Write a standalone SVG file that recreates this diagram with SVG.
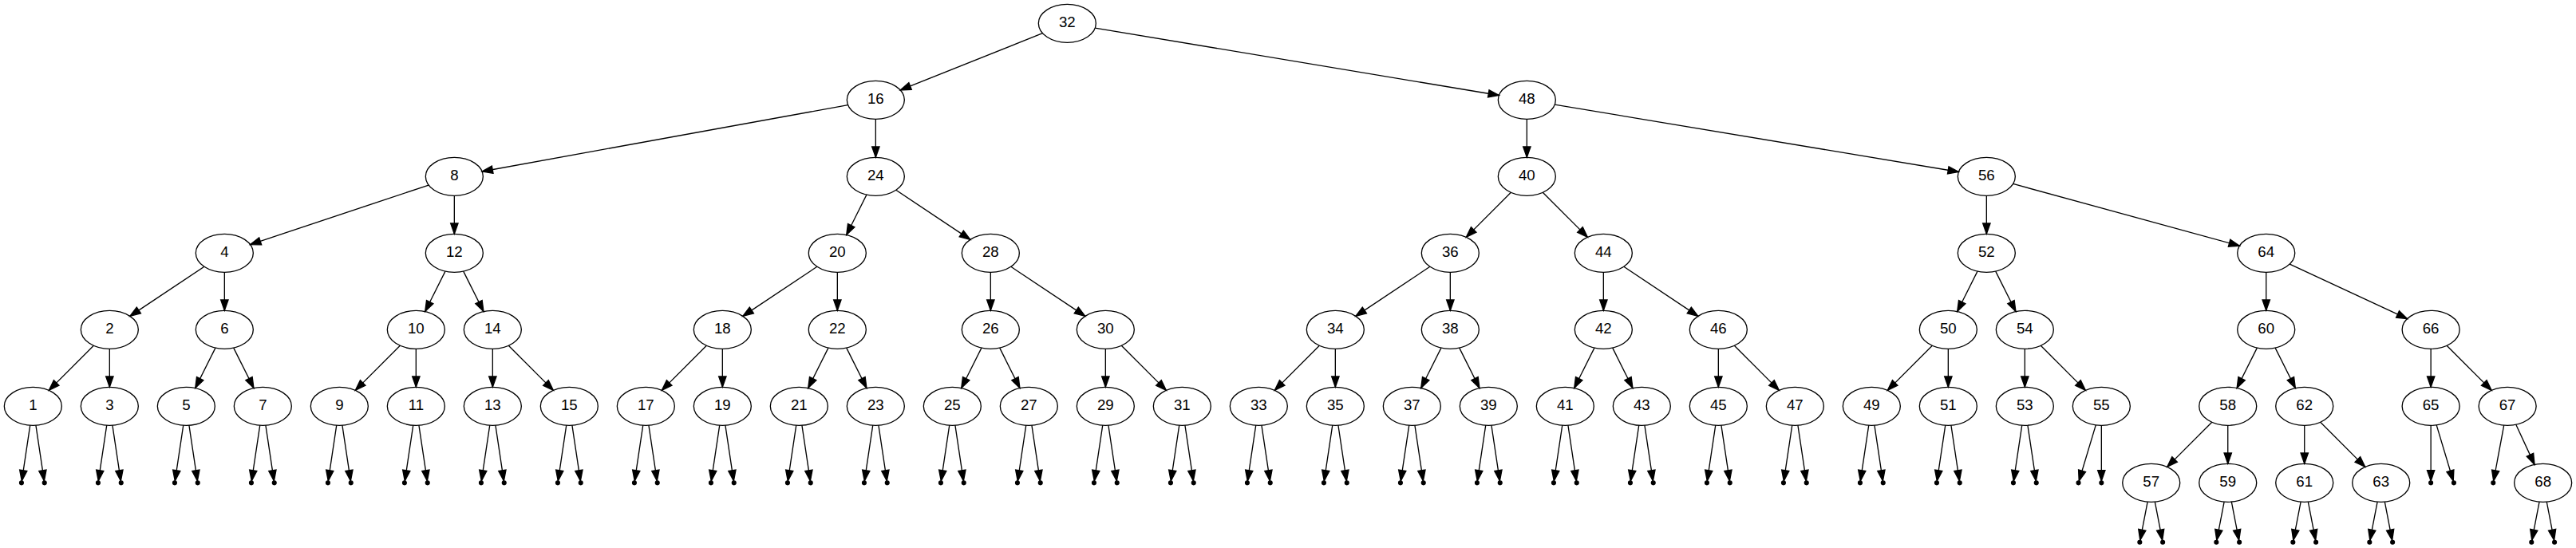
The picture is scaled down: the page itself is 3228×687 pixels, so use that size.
<svg xmlns="http://www.w3.org/2000/svg" width="3228" height="687" viewBox="0 0 3228 687">
<style>
.node ellipse{fill:none;stroke:#000;stroke-width:1.33}
.node text{font-family:"Liberation Sans",Arial,Helvetica,sans-serif;font-size:18.67px;text-anchor:middle;fill:#000}
.pt circle{fill:#000;stroke:#000;stroke-width:1.33}
#edges path{fill:none;stroke:#000;stroke-width:1.33;marker-end:url(#arr)}
</style>
<defs>
<marker id="arr" markerUnits="userSpaceOnUse" viewBox="-2 -2 18 14" markerWidth="18" markerHeight="14" refX="13.33" refY="4.67" orient="auto" overflow="visible">
<path d="M0,0 L13.33,4.67 L0,9.33 Z" fill="#000" stroke="#000" stroke-width="1.33"/>
</marker>
</defs>
<rect x="0" y="0" width="3228" height="687" fill="#fff"/>
<g id="edges">
<path d="M1306.46,41.68 L1128.20,112.98"/>
<path d="M1372.25,35.15 L1878.41,119.51"/>
<path d="M1062.60,131.65 L604.06,215.01"/>
<path d="M1097.33,149.33 L1097.33,197.33"/>
<path d="M1913.33,149.33 L1913.33,197.33"/>
<path d="M1948.25,131.15 L2454.41,215.51"/>
<path d="M537.13,232.06 L313.53,306.60"/>
<path d="M569.33,245.33 L569.33,293.33"/>
<path d="M1085.95,244.10 L1060.71,294.56"/>
<path d="M1122.79,238.30 L1215.87,300.36"/>
<path d="M1893.36,241.30 L1837.30,297.36"/>
<path d="M1933.30,241.30 L1989.36,297.36"/>
<path d="M2489.33,245.33 L2489.33,293.33"/>
<path d="M2522.63,230.45 L2806.43,308.21"/>
<path d="M255.87,334.30 L162.79,396.36"/>
<path d="M281.33,341.33 L281.33,389.33"/>
<path d="M557.95,340.10 L532.71,390.56"/>
<path d="M580.71,340.10 L605.95,390.56"/>
<path d="M1023.87,334.30 L930.79,396.36"/>
<path d="M1049.33,341.33 L1049.33,389.33"/>
<path d="M1241.33,341.33 L1241.33,389.33"/>
<path d="M1266.79,334.30 L1359.87,396.36"/>
<path d="M1791.87,334.30 L1698.79,396.36"/>
<path d="M1817.33,341.33 L1817.33,389.33"/>
<path d="M2009.33,341.33 L2009.33,389.33"/>
<path d="M2034.79,334.30 L2127.87,396.36"/>
<path d="M2477.95,340.10 L2452.71,390.56"/>
<path d="M2500.71,340.10 L2525.95,390.56"/>
<path d="M2839.73,341.33 L2839.73,389.33"/>
<path d="M2869.25,331.06 L3016.61,399.60"/>
<path d="M117.36,433.30 L61.30,489.36"/>
<path d="M137.33,437.33 L137.33,485.33"/>
<path d="M269.95,436.10 L244.71,486.56"/>
<path d="M292.71,436.10 L317.95,486.56"/>
<path d="M501.36,433.30 L445.30,489.36"/>
<path d="M521.33,437.33 L521.33,485.33"/>
<path d="M617.33,437.33 L617.33,485.33"/>
<path d="M637.30,433.30 L693.36,489.36"/>
<path d="M885.36,433.30 L829.30,489.36"/>
<path d="M905.33,437.33 L905.33,485.33"/>
<path d="M1037.95,436.10 L1012.71,486.56"/>
<path d="M1060.71,436.10 L1085.95,486.56"/>
<path d="M1229.95,436.10 L1204.71,486.56"/>
<path d="M1252.71,436.10 L1277.95,486.56"/>
<path d="M1385.33,437.33 L1385.33,485.33"/>
<path d="M1405.30,433.30 L1461.36,489.36"/>
<path d="M1653.36,433.30 L1597.30,489.36"/>
<path d="M1673.33,437.33 L1673.33,485.33"/>
<path d="M1805.95,436.10 L1780.71,486.56"/>
<path d="M1828.71,436.10 L1853.95,486.56"/>
<path d="M1997.95,436.10 L1972.71,486.56"/>
<path d="M2020.71,436.10 L2045.95,486.56"/>
<path d="M2153.33,437.33 L2153.33,485.33"/>
<path d="M2173.30,433.30 L2229.36,489.36"/>
<path d="M2421.36,433.30 L2365.30,489.36"/>
<path d="M2441.33,437.33 L2441.33,485.33"/>
<path d="M2537.33,437.33 L2537.33,485.33"/>
<path d="M2557.30,433.30 L2613.36,489.36"/>
<path d="M2828.35,436.10 L2803.11,486.56"/>
<path d="M2851.11,436.10 L2876.35,486.56"/>
<path d="M3046.13,437.33 L3046.13,485.33"/>
<path d="M3066.10,433.30 L3122.16,489.36"/>
<path d="M2771.76,529.30 L2715.70,585.36"/>
<path d="M2791.73,533.33 L2791.73,581.33"/>
<path d="M2887.73,533.33 L2887.73,581.33"/>
<path d="M2907.70,529.30 L2963.76,585.36"/>
<path d="M3152.77,532.26 L3176.03,582.40"/>
<path d="M37.75,533.21 L27.29,602.96"/><path d="M44.91,533.21 L55.37,602.96"/>
<path d="M133.75,533.21 L123.29,602.96"/><path d="M140.91,533.21 L151.37,602.96"/>
<path d="M229.75,533.21 L219.29,602.96"/><path d="M236.91,533.21 L247.37,602.96"/>
<path d="M325.75,533.21 L315.29,602.96"/><path d="M332.91,533.21 L343.37,602.96"/>
<path d="M421.75,533.21 L411.29,602.96"/><path d="M428.91,533.21 L439.37,602.96"/>
<path d="M517.75,533.21 L507.29,602.96"/><path d="M524.91,533.21 L535.37,602.96"/>
<path d="M613.75,533.21 L603.29,602.96"/><path d="M620.91,533.21 L631.37,602.96"/>
<path d="M709.75,533.21 L699.29,602.96"/><path d="M716.91,533.21 L727.37,602.96"/>
<path d="M805.75,533.21 L795.29,602.96"/><path d="M812.91,533.21 L823.37,602.96"/>
<path d="M901.75,533.21 L891.29,602.96"/><path d="M908.91,533.21 L919.37,602.96"/>
<path d="M997.75,533.21 L987.29,602.96"/><path d="M1004.91,533.21 L1015.37,602.96"/>
<path d="M1093.75,533.21 L1083.29,602.96"/><path d="M1100.91,533.21 L1111.37,602.96"/>
<path d="M1189.75,533.21 L1179.29,602.96"/><path d="M1196.91,533.21 L1207.37,602.96"/>
<path d="M1285.75,533.21 L1275.29,602.96"/><path d="M1292.91,533.21 L1303.37,602.96"/>
<path d="M1381.75,533.21 L1371.29,602.96"/><path d="M1388.91,533.21 L1399.37,602.96"/>
<path d="M1477.75,533.21 L1467.29,602.96"/><path d="M1484.91,533.21 L1495.37,602.96"/>
<path d="M1573.75,533.21 L1563.29,602.96"/><path d="M1580.91,533.21 L1591.37,602.96"/>
<path d="M1669.75,533.21 L1659.29,602.96"/><path d="M1676.91,533.21 L1687.37,602.96"/>
<path d="M1765.75,533.21 L1755.29,602.96"/><path d="M1772.91,533.21 L1783.37,602.96"/>
<path d="M1861.75,533.21 L1851.29,602.96"/><path d="M1868.91,533.21 L1879.37,602.96"/>
<path d="M1957.75,533.21 L1947.29,602.96"/><path d="M1964.91,533.21 L1975.37,602.96"/>
<path d="M2053.75,533.21 L2043.29,602.96"/><path d="M2060.91,533.21 L2071.37,602.96"/>
<path d="M2149.75,533.21 L2139.29,602.96"/><path d="M2156.91,533.21 L2167.37,602.96"/>
<path d="M2245.75,533.21 L2235.29,602.96"/><path d="M2252.91,533.21 L2263.37,602.96"/>
<path d="M2341.75,533.21 L2331.29,602.96"/><path d="M2348.91,533.21 L2359.37,602.96"/>
<path d="M2437.75,533.21 L2427.29,602.96"/><path d="M2444.91,533.21 L2455.37,602.96"/>
<path d="M2533.75,533.21 L2523.29,602.96"/><path d="M2540.91,533.21 L2551.37,602.96"/>
<path d="M2626.27,532.86 L2605.22,603.03"/><path d="M2633.33,533.33 L2633.33,602.93"/>
<path d="M3046.13,533.33 L3046.13,602.93"/><path d="M3053.19,532.86 L3074.24,603.03"/>
<path d="M3137.70,533.15 L3124.71,602.97"/>
<path d="M2691.12,629.13 L2681.79,677.37"/><path d="M2700.34,629.13 L2709.67,677.37"/>
<path d="M2787.12,629.13 L2777.79,677.37"/><path d="M2796.34,629.13 L2805.67,677.37"/>
<path d="M2883.12,629.13 L2873.79,677.37"/><path d="M2892.34,629.13 L2901.67,677.37"/>
<path d="M2979.12,629.13 L2969.79,677.37"/><path d="M2988.34,629.13 L2997.67,677.37"/>
<path d="M3182.06,629.13 L3172.73,677.37"/><path d="M3191.28,629.13 L3200.61,677.37"/>
</g>
<g id="n32" class="node"><ellipse cx="1337.33" cy="29.33" rx="36" ry="24"/><text x="1337.33" y="34.33">32</text></g>
<g id="n16" class="node"><ellipse cx="1097.33" cy="125.33" rx="36" ry="24"/><text x="1097.33" y="130.33">16</text></g>
<g id="n48" class="node"><ellipse cx="1913.33" cy="125.33" rx="36" ry="24"/><text x="1913.33" y="130.33">48</text></g>
<g id="n8" class="node"><ellipse cx="569.33" cy="221.33" rx="36" ry="24"/><text x="569.33" y="226.33">8</text></g>
<g id="n24" class="node"><ellipse cx="1097.33" cy="221.33" rx="36" ry="24"/><text x="1097.33" y="226.33">24</text></g>
<g id="n40" class="node"><ellipse cx="1913.33" cy="221.33" rx="36" ry="24"/><text x="1913.33" y="226.33">40</text></g>
<g id="n56" class="node"><ellipse cx="2489.33" cy="221.33" rx="36" ry="24"/><text x="2489.33" y="226.33">56</text></g>
<g id="n4" class="node"><ellipse cx="281.33" cy="317.33" rx="36" ry="24"/><text x="281.33" y="322.33">4</text></g>
<g id="n12" class="node"><ellipse cx="569.33" cy="317.33" rx="36" ry="24"/><text x="569.33" y="322.33">12</text></g>
<g id="n20" class="node"><ellipse cx="1049.33" cy="317.33" rx="36" ry="24"/><text x="1049.33" y="322.33">20</text></g>
<g id="n28" class="node"><ellipse cx="1241.33" cy="317.33" rx="36" ry="24"/><text x="1241.33" y="322.33">28</text></g>
<g id="n36" class="node"><ellipse cx="1817.33" cy="317.33" rx="36" ry="24"/><text x="1817.33" y="322.33">36</text></g>
<g id="n44" class="node"><ellipse cx="2009.33" cy="317.33" rx="36" ry="24"/><text x="2009.33" y="322.33">44</text></g>
<g id="n52" class="node"><ellipse cx="2489.33" cy="317.33" rx="36" ry="24"/><text x="2489.33" y="322.33">52</text></g>
<g id="n64" class="node"><ellipse cx="2839.73" cy="317.33" rx="36" ry="24"/><text x="2839.73" y="322.33">64</text></g>
<g id="n2" class="node"><ellipse cx="137.33" cy="413.33" rx="36" ry="24"/><text x="137.33" y="418.33">2</text></g>
<g id="n6" class="node"><ellipse cx="281.33" cy="413.33" rx="36" ry="24"/><text x="281.33" y="418.33">6</text></g>
<g id="n10" class="node"><ellipse cx="521.33" cy="413.33" rx="36" ry="24"/><text x="521.33" y="418.33">10</text></g>
<g id="n14" class="node"><ellipse cx="617.33" cy="413.33" rx="36" ry="24"/><text x="617.33" y="418.33">14</text></g>
<g id="n18" class="node"><ellipse cx="905.33" cy="413.33" rx="36" ry="24"/><text x="905.33" y="418.33">18</text></g>
<g id="n22" class="node"><ellipse cx="1049.33" cy="413.33" rx="36" ry="24"/><text x="1049.33" y="418.33">22</text></g>
<g id="n26" class="node"><ellipse cx="1241.33" cy="413.33" rx="36" ry="24"/><text x="1241.33" y="418.33">26</text></g>
<g id="n30" class="node"><ellipse cx="1385.33" cy="413.33" rx="36" ry="24"/><text x="1385.33" y="418.33">30</text></g>
<g id="n34" class="node"><ellipse cx="1673.33" cy="413.33" rx="36" ry="24"/><text x="1673.33" y="418.33">34</text></g>
<g id="n38" class="node"><ellipse cx="1817.33" cy="413.33" rx="36" ry="24"/><text x="1817.33" y="418.33">38</text></g>
<g id="n42" class="node"><ellipse cx="2009.33" cy="413.33" rx="36" ry="24"/><text x="2009.33" y="418.33">42</text></g>
<g id="n46" class="node"><ellipse cx="2153.33" cy="413.33" rx="36" ry="24"/><text x="2153.33" y="418.33">46</text></g>
<g id="n50" class="node"><ellipse cx="2441.33" cy="413.33" rx="36" ry="24"/><text x="2441.33" y="418.33">50</text></g>
<g id="n54" class="node"><ellipse cx="2537.33" cy="413.33" rx="36" ry="24"/><text x="2537.33" y="418.33">54</text></g>
<g id="n60" class="node"><ellipse cx="2839.73" cy="413.33" rx="36" ry="24"/><text x="2839.73" y="418.33">60</text></g>
<g id="n66" class="node"><ellipse cx="3046.13" cy="413.33" rx="36" ry="24"/><text x="3046.13" y="418.33">66</text></g>
<g id="n1" class="node"><ellipse cx="41.33" cy="509.33" rx="36" ry="24"/><text x="41.33" y="514.33">1</text></g>
<g id="n3" class="node"><ellipse cx="137.33" cy="509.33" rx="36" ry="24"/><text x="137.33" y="514.33">3</text></g>
<g id="n5" class="node"><ellipse cx="233.33" cy="509.33" rx="36" ry="24"/><text x="233.33" y="514.33">5</text></g>
<g id="n7" class="node"><ellipse cx="329.33" cy="509.33" rx="36" ry="24"/><text x="329.33" y="514.33">7</text></g>
<g id="n9" class="node"><ellipse cx="425.33" cy="509.33" rx="36" ry="24"/><text x="425.33" y="514.33">9</text></g>
<g id="n11" class="node"><ellipse cx="521.33" cy="509.33" rx="36" ry="24"/><text x="521.33" y="514.33">11</text></g>
<g id="n13" class="node"><ellipse cx="617.33" cy="509.33" rx="36" ry="24"/><text x="617.33" y="514.33">13</text></g>
<g id="n15" class="node"><ellipse cx="713.33" cy="509.33" rx="36" ry="24"/><text x="713.33" y="514.33">15</text></g>
<g id="n17" class="node"><ellipse cx="809.33" cy="509.33" rx="36" ry="24"/><text x="809.33" y="514.33">17</text></g>
<g id="n19" class="node"><ellipse cx="905.33" cy="509.33" rx="36" ry="24"/><text x="905.33" y="514.33">19</text></g>
<g id="n21" class="node"><ellipse cx="1001.33" cy="509.33" rx="36" ry="24"/><text x="1001.33" y="514.33">21</text></g>
<g id="n23" class="node"><ellipse cx="1097.33" cy="509.33" rx="36" ry="24"/><text x="1097.33" y="514.33">23</text></g>
<g id="n25" class="node"><ellipse cx="1193.33" cy="509.33" rx="36" ry="24"/><text x="1193.33" y="514.33">25</text></g>
<g id="n27" class="node"><ellipse cx="1289.33" cy="509.33" rx="36" ry="24"/><text x="1289.33" y="514.33">27</text></g>
<g id="n29" class="node"><ellipse cx="1385.33" cy="509.33" rx="36" ry="24"/><text x="1385.33" y="514.33">29</text></g>
<g id="n31" class="node"><ellipse cx="1481.33" cy="509.33" rx="36" ry="24"/><text x="1481.33" y="514.33">31</text></g>
<g id="n33" class="node"><ellipse cx="1577.33" cy="509.33" rx="36" ry="24"/><text x="1577.33" y="514.33">33</text></g>
<g id="n35" class="node"><ellipse cx="1673.33" cy="509.33" rx="36" ry="24"/><text x="1673.33" y="514.33">35</text></g>
<g id="n37" class="node"><ellipse cx="1769.33" cy="509.33" rx="36" ry="24"/><text x="1769.33" y="514.33">37</text></g>
<g id="n39" class="node"><ellipse cx="1865.33" cy="509.33" rx="36" ry="24"/><text x="1865.33" y="514.33">39</text></g>
<g id="n41" class="node"><ellipse cx="1961.33" cy="509.33" rx="36" ry="24"/><text x="1961.33" y="514.33">41</text></g>
<g id="n43" class="node"><ellipse cx="2057.33" cy="509.33" rx="36" ry="24"/><text x="2057.33" y="514.33">43</text></g>
<g id="n45" class="node"><ellipse cx="2153.33" cy="509.33" rx="36" ry="24"/><text x="2153.33" y="514.33">45</text></g>
<g id="n47" class="node"><ellipse cx="2249.33" cy="509.33" rx="36" ry="24"/><text x="2249.33" y="514.33">47</text></g>
<g id="n49" class="node"><ellipse cx="2345.33" cy="509.33" rx="36" ry="24"/><text x="2345.33" y="514.33">49</text></g>
<g id="n51" class="node"><ellipse cx="2441.33" cy="509.33" rx="36" ry="24"/><text x="2441.33" y="514.33">51</text></g>
<g id="n53" class="node"><ellipse cx="2537.33" cy="509.33" rx="36" ry="24"/><text x="2537.33" y="514.33">53</text></g>
<g id="n55" class="node"><ellipse cx="2633.33" cy="509.33" rx="36" ry="24"/><text x="2633.33" y="514.33">55</text></g>
<g id="n58" class="node"><ellipse cx="2791.73" cy="509.33" rx="36" ry="24"/><text x="2791.73" y="514.33">58</text></g>
<g id="n62" class="node"><ellipse cx="2887.73" cy="509.33" rx="36" ry="24"/><text x="2887.73" y="514.33">62</text></g>
<g id="n65" class="node"><ellipse cx="3046.13" cy="509.33" rx="36" ry="24"/><text x="3046.13" y="514.33">65</text></g>
<g id="n67" class="node"><ellipse cx="3142.13" cy="509.33" rx="36" ry="24"/><text x="3142.13" y="514.33">67</text></g>
<g id="n57" class="node"><ellipse cx="2695.73" cy="605.33" rx="36" ry="24"/><text x="2695.73" y="610.33">57</text></g>
<g id="n59" class="node"><ellipse cx="2791.73" cy="605.33" rx="36" ry="24"/><text x="2791.73" y="610.33">59</text></g>
<g id="n61" class="node"><ellipse cx="2887.73" cy="605.33" rx="36" ry="24"/><text x="2887.73" y="610.33">61</text></g>
<g id="n63" class="node"><ellipse cx="2983.73" cy="605.33" rx="36" ry="24"/><text x="2983.73" y="610.33">63</text></g>
<g id="n68" class="node"><ellipse cx="3186.67" cy="605.33" rx="36" ry="24"/><text x="3186.67" y="610.33">68</text></g>
<g id="p1L" class="pt"><circle cx="26.93" cy="605.33" r="2.4"/></g><g id="p1R" class="pt"><circle cx="55.73" cy="605.33" r="2.4"/></g>
<g id="p3L" class="pt"><circle cx="122.93" cy="605.33" r="2.4"/></g><g id="p3R" class="pt"><circle cx="151.73" cy="605.33" r="2.4"/></g>
<g id="p5L" class="pt"><circle cx="218.93" cy="605.33" r="2.4"/></g><g id="p5R" class="pt"><circle cx="247.73" cy="605.33" r="2.4"/></g>
<g id="p7L" class="pt"><circle cx="314.93" cy="605.33" r="2.4"/></g><g id="p7R" class="pt"><circle cx="343.73" cy="605.33" r="2.4"/></g>
<g id="p9L" class="pt"><circle cx="410.93" cy="605.33" r="2.4"/></g><g id="p9R" class="pt"><circle cx="439.73" cy="605.33" r="2.4"/></g>
<g id="p11L" class="pt"><circle cx="506.93" cy="605.33" r="2.4"/></g><g id="p11R" class="pt"><circle cx="535.73" cy="605.33" r="2.4"/></g>
<g id="p13L" class="pt"><circle cx="602.93" cy="605.33" r="2.4"/></g><g id="p13R" class="pt"><circle cx="631.73" cy="605.33" r="2.4"/></g>
<g id="p15L" class="pt"><circle cx="698.93" cy="605.33" r="2.4"/></g><g id="p15R" class="pt"><circle cx="727.73" cy="605.33" r="2.4"/></g>
<g id="p17L" class="pt"><circle cx="794.93" cy="605.33" r="2.4"/></g><g id="p17R" class="pt"><circle cx="823.73" cy="605.33" r="2.4"/></g>
<g id="p19L" class="pt"><circle cx="890.93" cy="605.33" r="2.4"/></g><g id="p19R" class="pt"><circle cx="919.73" cy="605.33" r="2.4"/></g>
<g id="p21L" class="pt"><circle cx="986.93" cy="605.33" r="2.4"/></g><g id="p21R" class="pt"><circle cx="1015.73" cy="605.33" r="2.4"/></g>
<g id="p23L" class="pt"><circle cx="1082.93" cy="605.33" r="2.4"/></g><g id="p23R" class="pt"><circle cx="1111.73" cy="605.33" r="2.4"/></g>
<g id="p25L" class="pt"><circle cx="1178.93" cy="605.33" r="2.4"/></g><g id="p25R" class="pt"><circle cx="1207.73" cy="605.33" r="2.4"/></g>
<g id="p27L" class="pt"><circle cx="1274.93" cy="605.33" r="2.4"/></g><g id="p27R" class="pt"><circle cx="1303.73" cy="605.33" r="2.4"/></g>
<g id="p29L" class="pt"><circle cx="1370.93" cy="605.33" r="2.4"/></g><g id="p29R" class="pt"><circle cx="1399.73" cy="605.33" r="2.4"/></g>
<g id="p31L" class="pt"><circle cx="1466.93" cy="605.33" r="2.4"/></g><g id="p31R" class="pt"><circle cx="1495.73" cy="605.33" r="2.4"/></g>
<g id="p33L" class="pt"><circle cx="1562.93" cy="605.33" r="2.4"/></g><g id="p33R" class="pt"><circle cx="1591.73" cy="605.33" r="2.4"/></g>
<g id="p35L" class="pt"><circle cx="1658.93" cy="605.33" r="2.4"/></g><g id="p35R" class="pt"><circle cx="1687.73" cy="605.33" r="2.4"/></g>
<g id="p37L" class="pt"><circle cx="1754.93" cy="605.33" r="2.4"/></g><g id="p37R" class="pt"><circle cx="1783.73" cy="605.33" r="2.4"/></g>
<g id="p39L" class="pt"><circle cx="1850.93" cy="605.33" r="2.4"/></g><g id="p39R" class="pt"><circle cx="1879.73" cy="605.33" r="2.4"/></g>
<g id="p41L" class="pt"><circle cx="1946.93" cy="605.33" r="2.4"/></g><g id="p41R" class="pt"><circle cx="1975.73" cy="605.33" r="2.4"/></g>
<g id="p43L" class="pt"><circle cx="2042.93" cy="605.33" r="2.4"/></g><g id="p43R" class="pt"><circle cx="2071.73" cy="605.33" r="2.4"/></g>
<g id="p45L" class="pt"><circle cx="2138.93" cy="605.33" r="2.4"/></g><g id="p45R" class="pt"><circle cx="2167.73" cy="605.33" r="2.4"/></g>
<g id="p47L" class="pt"><circle cx="2234.93" cy="605.33" r="2.4"/></g><g id="p47R" class="pt"><circle cx="2263.73" cy="605.33" r="2.4"/></g>
<g id="p49L" class="pt"><circle cx="2330.93" cy="605.33" r="2.4"/></g><g id="p49R" class="pt"><circle cx="2359.73" cy="605.33" r="2.4"/></g>
<g id="p51L" class="pt"><circle cx="2426.93" cy="605.33" r="2.4"/></g><g id="p51R" class="pt"><circle cx="2455.73" cy="605.33" r="2.4"/></g>
<g id="p53L" class="pt"><circle cx="2522.93" cy="605.33" r="2.4"/></g><g id="p53R" class="pt"><circle cx="2551.73" cy="605.33" r="2.4"/></g>
<g id="p55L" class="pt"><circle cx="2604.53" cy="605.33" r="2.4"/></g><g id="p55R" class="pt"><circle cx="2633.33" cy="605.33" r="2.4"/></g>
<g id="p65L" class="pt"><circle cx="3046.13" cy="605.33" r="2.4"/></g><g id="p65R" class="pt"><circle cx="3074.93" cy="605.33" r="2.4"/></g>
<g id="p67L" class="pt"><circle cx="3124.27" cy="605.33" r="2.4"/></g>
<g id="p57L" class="pt"><circle cx="2681.33" cy="679.73" r="2.4"/></g><g id="p57R" class="pt"><circle cx="2710.13" cy="679.73" r="2.4"/></g>
<g id="p59L" class="pt"><circle cx="2777.33" cy="679.73" r="2.4"/></g><g id="p59R" class="pt"><circle cx="2806.13" cy="679.73" r="2.4"/></g>
<g id="p61L" class="pt"><circle cx="2873.33" cy="679.73" r="2.4"/></g><g id="p61R" class="pt"><circle cx="2902.13" cy="679.73" r="2.4"/></g>
<g id="p63L" class="pt"><circle cx="2969.33" cy="679.73" r="2.4"/></g><g id="p63R" class="pt"><circle cx="2998.13" cy="679.73" r="2.4"/></g>
<g id="p68L" class="pt"><circle cx="3172.27" cy="679.73" r="2.4"/></g><g id="p68R" class="pt"><circle cx="3201.07" cy="679.73" r="2.4"/></g>
</svg>
